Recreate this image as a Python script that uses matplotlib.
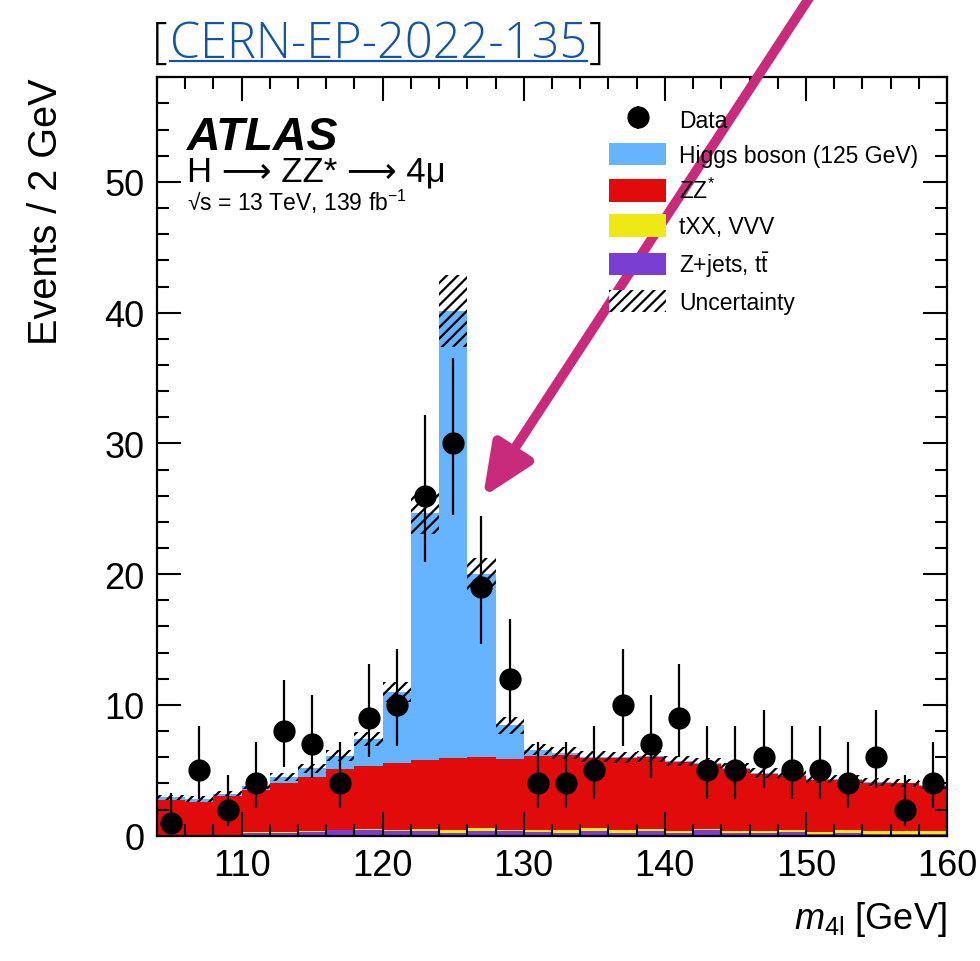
import math
import numpy as np
import matplotlib
matplotlib.use('Agg')
import matplotlib.pyplot as plt
from matplotlib.patches import Patch
from matplotlib.lines import Line2D
from matplotlib.ticker import MultipleLocator

plt.rcParams['font.family'] = ['Liberation Sans', 'DejaVu Sans']
plt.rcParams['mathtext.fontset'] = 'custom'
plt.rcParams['mathtext.rm'] = 'Liberation Sans'
plt.rcParams['mathtext.it'] = 'Liberation Sans:italic'
plt.rcParams['mathtext.bf'] = 'Liberation Sans:bold'
plt.rcParams['hatch.linewidth'] = 1.6

# 2 GeV bins from 104 to 160
edges = np.arange(104, 161, 2)
centers = edges[:-1] + 1

data = [1, 5, 2, 4, 8, 7, 4, 9, 10, 26, 30, 19, 12, 4,
        4, 5, 10, 7, 9, 5, 5, 6, 5, 5, 4, 6, 2, 4]

zjets = [0.02, 0.02, 0.02, 0.2, 0.2, 0.3, 0.4, 0.4, 0.33, 0.33, 0.2, 0.38, 0.35, 0.3,
         0.2, 0.33, 0.22, 0.35, 0.2, 0.4, 0.2, 0.2, 0.3, 0.1, 0.2, 0.1, 0.1, 0.15]
txx = [0.03, 0.03, 0.03, 0.05, 0.05, 0.05, 0.05, 0.1, 0.1, 0.15, 0.2, 0.2, 0.12, 0.1,
       0.2, 0.25, 0.18, 0.2, 0.15, 0.15, 0.15, 0.15, 0.15, 0.2, 0.2, 0.25, 0.25, 0.2]
zz_top = [2.76, 2.6, 3.0, 3.5, 4.04, 4.52, 5.11, 5.36, 5.57, 5.8, 5.93, 6.03, 5.88, 6.08,
          6.18, 5.93, 5.93, 6.0, 5.62, 5.49, 5.11, 4.73, 4.6, 4.29, 4.27, 4.04, 4.0, 3.83]
total = [2.94, 2.8, 3.2, 3.8, 4.47, 5.16, 6.13, 7.41, 11.0, 24.7, 40.15, 19.98, 8.43, 6.59,
         6.33, 6.03, 6.0, 6.07, 5.7, 5.56, 5.18, 4.8, 4.66, 4.35, 4.32, 4.08, 4.05, 3.88]
unc = [0.2, 0.2, 0.2, 0.25, 0.3, 0.35, 0.45, 0.55, 0.75, 1.65, 2.75, 1.25, 0.65, 0.45,
       0.45, 0.42, 0.42, 0.42, 0.4, 0.4, 0.38, 0.35, 0.35, 0.33, 0.32, 0.3, 0.3, 0.3]

zjets = np.array(zjets)
txx = np.array(txx)
zz = np.array(zz_top) - zjets - txx
higgs = np.array(total) - np.array(zz_top)
total = np.array(total)
unc = np.array(unc)

c_higgs = '#66b3ff'
c_zz = '#e20b0b'
c_txx = '#eee815'
c_zjets = '#7a3fd2'


def pois_cdf(k, mu):
    s = 0.0
    for i in range(k + 1):
        s += math.exp(-mu + i * math.log(mu) - math.lgamma(i + 1))
    return s


def solve(f, target, lo, hi):
    # f decreasing in mu
    for _ in range(100):
        mid = 0.5 * (lo + hi)
        if f(mid) > target:
            lo = mid
        else:
            hi = mid
    return 0.5 * (lo + hi)


def garwood(n, cl=0.6827):
    a = (1 - cl) / 2
    top = n + 10 * math.sqrt(n + 1) + 10
    lo = 0.0 if n == 0 else solve(lambda m: pois_cdf(n - 1, m), 1 - a, 1e-9, top)
    hi = solve(lambda m: pois_cdf(n, m), a, 1e-9, top)
    return n - lo, hi - n


errs = np.array([garwood(n) for n in data]).T

fig = plt.figure(figsize=(9.8, 9.62), dpi=100)
ax = fig.add_axes([157 / 980, 1 - 836.7 / 962, 790 / 980, (836.7 - 78.3) / 962])

bottom = np.zeros(len(centers))
for vals, col in [(zjets, c_zjets), (txx, c_txx), (zz, c_zz), (higgs, c_higgs)]:
    ax.stairs(bottom + vals, edges, baseline=bottom, fill=True, color=col, linewidth=0)
    bottom = bottom + vals

ax.bar(edges[:-1], 2 * unc, width=np.diff(edges), bottom=total - unc, align='edge',
       facecolor='none', edgecolor='black', hatch='///', linewidth=0)

ax.errorbar(centers, data, yerr=errs, fmt='o', color='black', markersize=15,
            elinewidth=1.6, capsize=0, zorder=5)

ax.set_xlim(104, 160)
ax.set_ylim(0, 58)
ax.set_xticks([110, 120, 130, 140, 150, 160])
ax.xaxis.set_minor_locator(MultipleLocator(2))
ax.yaxis.set_major_locator(MultipleLocator(10))
ax.yaxis.set_minor_locator(MultipleLocator(2))
ax.tick_params(which='both', direction='in', top=True, right=True, width=1.5, labelsize=26)
ax.tick_params(which='major', length=17, pad=9)
ax.tick_params(which='minor', length=8.5)
for sp in ax.spines.values():
    sp.set_linewidth(1.6)

ax.set_ylabel('Events / 2 GeV', fontsize=28.5, loc='top')
ax.yaxis.set_label_coords(-0.117, 1.0)
ax.set_xlabel(r'$m_{4\mathrm{l}}$ [GeV]', fontsize=26, loc='right')
ax.xaxis.set_label_coords(1.0, -0.083)

ax.text(187 / 980, 1 - 150 / 962, 'ATLAS', transform=fig.transFigure,
        fontsize=33.5, fontweight='bold', fontstyle='italic')
ax.text(187 / 980, 1 - 181 / 962, 'H ⟶ ZZ* ⟶ 4μ', transform=fig.transFigure, fontsize=25)
ax.text(187 / 980, 1 - 211 / 962, r'√s = 13 TeV, 139 fb$^{-1}$', transform=fig.transFigure,
        fontsize=16.5)

data_handle = ax.errorbar([np.nan], [np.nan], yerr=[1], fmt='o', color='black',
                          markersize=15, elinewidth=1.6, capsize=0)
handles = [
    data_handle,
    Patch(facecolor=c_higgs, linewidth=0),
    Patch(facecolor=c_zz, linewidth=0),
    Patch(facecolor=c_txx, linewidth=0),
    Patch(facecolor=c_zjets, linewidth=0),
    Patch(facecolor='white', edgecolor='black', hatch='///', linewidth=0),
]
labels = ['Data', 'Higgs boson (125 GeV)', 'ZZ$^{*}$', 'tXX, VVV',
          r'Z+jets, t$\bar{\mathrm{t}}$', 'Uncertainty']
fig.legend(handles, labels, loc='upper left', bbox_to_anchor=(609 / 980, 1 - 109 / 962),
           frameon=False, fontsize=16.5, handlelength=2.5, handleheight=1.13,
           handletextpad=0.57, labelspacing=0.48, borderpad=0, borderaxespad=0)

# title: [CERN-EP-2022-135] with underlined link text
tfont = dict(fontsize=35, family=['Open Sans', 'DejaVu Sans'], fontweight='light')
t1 = fig.text(152 / 980, 1 - 58 / 962, '[', color='black', **tfont)
fig.canvas.draw()
bb = t1.get_window_extent()
t2 = fig.text(bb.x1 + 2, 962 - 58, 'CERN-EP-2022-135', color='#1553a3',
              transform=None, **tfont)
fig.canvas.draw()
bb2 = t2.get_window_extent()
fig.text(bb2.x1 + 2, 962 - 58, ']', color='black', transform=None, **tfont)
fig.add_artist(Line2D([bb2.x0, bb2.x1], [962 - 62, 962 - 62], transform=None,
                      color='#1553a3', linewidth=1.6))

# pointing arrow
ax.annotate('', xy=(483, 962 - 498), xycoords='figure pixels',
            xytext=(815, 962 + 10), textcoords='figure pixels',
            arrowprops=dict(arrowstyle='-|>,head_length=1.25,head_width=0.55',
                            mutation_scale=25, color='#c92b7b', lw=7,
                            shrinkA=0, shrinkB=0),
            annotation_clip=False)

fig.savefig('out.png', dpi=100)
